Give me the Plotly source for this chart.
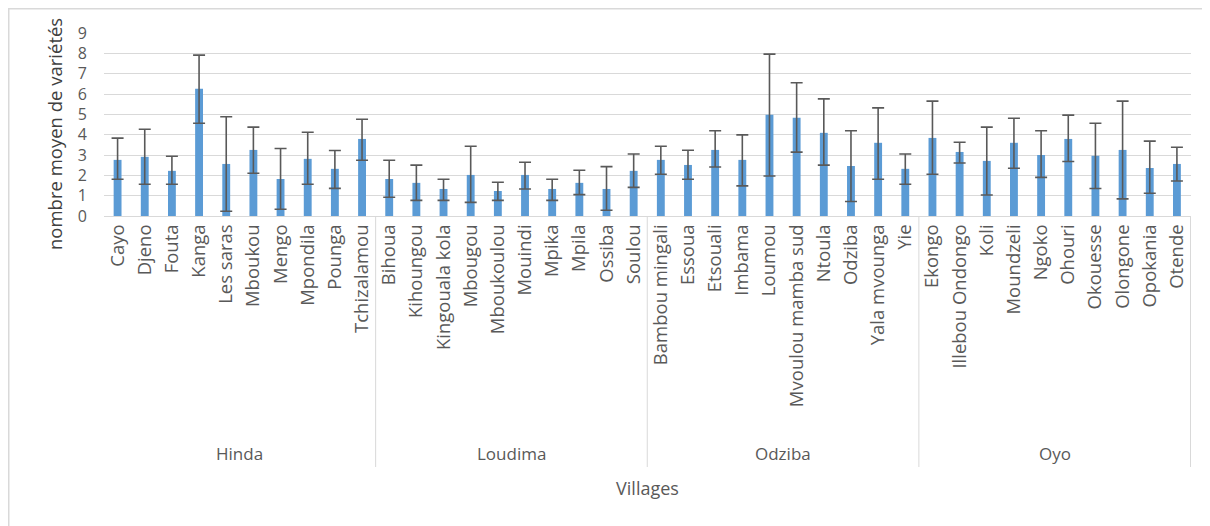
import plotly.graph_objects as go

groups = ["Hinda", "Loudima", "Odziba", "Oyo"]
villages_hinda = ["Cayo", "Djeno", "Fouta", "Kanga", "Les saras", "Mboukou", "Mengo", "Mpondila", "Pounga", "Tchizalamou"]
villages_loudima = ["Bihoua", "Kihoungou", "Kingouala kola", "Mbougou", "Mboukoulou", "Mouindi", "Mpika", "Mpila", "Ossiba", "Soulou"]
villages_odziba = ["Bambou mingali", "Essoua", "Etsouali", "Imbama", "Loumou", "Mvoulou mamba sud", "Ntoula", "Odziba", "Yala mvounga", "Yie"]
villages_oyo = ["Ekongo", "Illebou Ondongo", "Koli", "Moundzeli", "Ngoko", "Ohouri", "Okouesse", "Olongone", "Opokania", "Otende"]

mean_hinda = [2.76, 2.91, 2.22, 6.26, 2.56, 3.25, 1.82, 2.81, 2.32, 3.79]
mean_loudima = [1.82, 1.63, 1.33, 2.02, 1.23, 2.02, 1.33, 1.63, 1.33, 2.22]
mean_odziba = [2.76, 2.51, 3.25, 2.76, 4.98, 4.83, 4.09, 2.46, 3.60, 2.32]
mean_oyo = [3.84, 3.15, 2.71, 3.60, 3.00, 3.79, 2.96, 3.25, 2.36, 2.56]

err_plus_hinda = [1.07, 1.36, 0.72, 1.65, 2.32, 1.12, 1.50, 1.31, 0.90, 0.97]
err_plus_loudima = [0.92, 0.87, 0.48, 1.41, 0.43, 0.62, 0.48, 0.62, 1.10, 0.83]
err_plus_odziba = [0.67, 0.72, 0.94, 1.23, 2.98, 1.72, 1.67, 1.73, 1.72, 0.73]
err_plus_oyo = [1.81, 0.48, 1.66, 1.21, 1.19, 1.17, 1.60, 2.40, 1.32, 0.82]

err_minus_hinda = [0.95, 1.35, 0.66, 1.70, 2.33, 1.15, 1.49, 1.25, 0.96, 1.05]
err_minus_loudima = [0.90, 0.86, 0.56, 1.35, 0.46, 0.69, 0.56, 0.58, 1.05, 0.81]
err_minus_odziba = [0.71, 0.70, 0.84, 1.28, 3.01, 1.69, 1.59, 1.75, 1.79, 0.76]
err_minus_oyo = [1.79, 0.54, 1.68, 1.25, 1.10, 1.11, 1.61, 2.41, 1.24, 0.84]

y_ticks = [0, 1, 2, 3, 4, 5, 6, 7, 8, 9]
y_title = "nombre moyen de variétés"
x_title = "Villages"

villages_by_group = [villages_hinda, villages_loudima, villages_odziba, villages_oyo]
villages = sum(villages_by_group, [])
means = mean_hinda + mean_loudima + mean_odziba + mean_oyo
err_plus = err_plus_hinda + err_plus_loudima + err_plus_odziba + err_plus_oyo
err_minus = err_minus_hinda + err_minus_loudima + err_minus_odziba + err_minus_oyo

FONT = "Open Sans"
GREY = "#595959"
LINE = "#d9d9d9"

fig = go.Figure()
fig.add_trace(go.Bar(
    x=villages, y=means,
    marker=dict(color="#5b9bd5", line=dict(width=0)),
    error_y=dict(type="data", symmetric=False, array=err_plus, arrayminus=err_minus,
                 color=GREY, thickness=1.6, width=6),
    showlegend=False,
))

# page has an 8px body offset; figure coordinates below are page coords - 8
W, H = 1210, 526
ml, mr, mt, mb = 96, 27, 25, 318
ph = H - mt - mb
pw = W - ml - mr
axis_y = H - mb  # figure px of the x axis

shapes = []
annotations = []
start = 0
for g, vs in zip(groups, villages_by_group):
    end = start + len(vs)
    shapes.append(dict(type="line", xref="x", yref="paper", x0=end - 0.5, x1=end - 0.5,
                       y0=0, y1=-(459 - axis_y) / ph, line=dict(color=LINE, width=1)))
    annotations.append(dict(text=g, xref="x", yref="paper", x=(start + end - 1) / 2,
                            y=-(445 - axis_y) / ph, showarrow=False, yanchor="middle",
                            font=dict(family=FONT, size=17, color=GREY)))
    start = end

# y-axis title placed like the reference (slightly below plot centre)
annotations.append(dict(text=y_title, xref="paper", yref="paper",
                        x=(47 - ml) / pw, y=(axis_y - 126) / ph, textangle=-90,
                        showarrow=False, xanchor="center", yanchor="middle",
                        font=dict(family=FONT, size=18.5, color="#404040")))

# outer chart border (top and left visible)
shapes.append(dict(type="rect", xref="paper", yref="paper",
                   x0=(0.75 - ml) / pw, x1=(W + 10 - ml) / pw,
                   y0=-(H + 10 - axis_y) / ph, y1=(axis_y - 0.75) / ph,
                   line=dict(color=LINE, width=1.5), layer="below"))

fig.update_layout(
    width=W, height=H,
    margin=dict(l=ml, r=mr, t=mt, b=mb, autoexpand=False),
    paper_bgcolor="white", plot_bgcolor="white",
    bargap=0.71,
    font=dict(family=FONT, color=GREY),
    shapes=shapes, annotations=annotations,
    xaxis=dict(
        type="category", tickangle=-90, tickfont=dict(family=FONT, size=18.5, color=GREY),
        showline=True, linecolor=LINE, linewidth=1, showgrid=False, ticks="",
        title=dict(text=x_title, font=dict(family=FONT, size=18, color=GREY), standoff=76),
        automargin=False,
    ),
    yaxis=dict(
        range=[0, 9], tickvals=y_ticks, showgrid=True, gridcolor=LINE, gridwidth=1,
        zeroline=False, showline=False, ticks="", ticklabelstandoff=16,
        tickfont=dict(family=FONT, size=16, color=GREY),
        automargin=False,
    ),
)

fig.write_html("out.html")
